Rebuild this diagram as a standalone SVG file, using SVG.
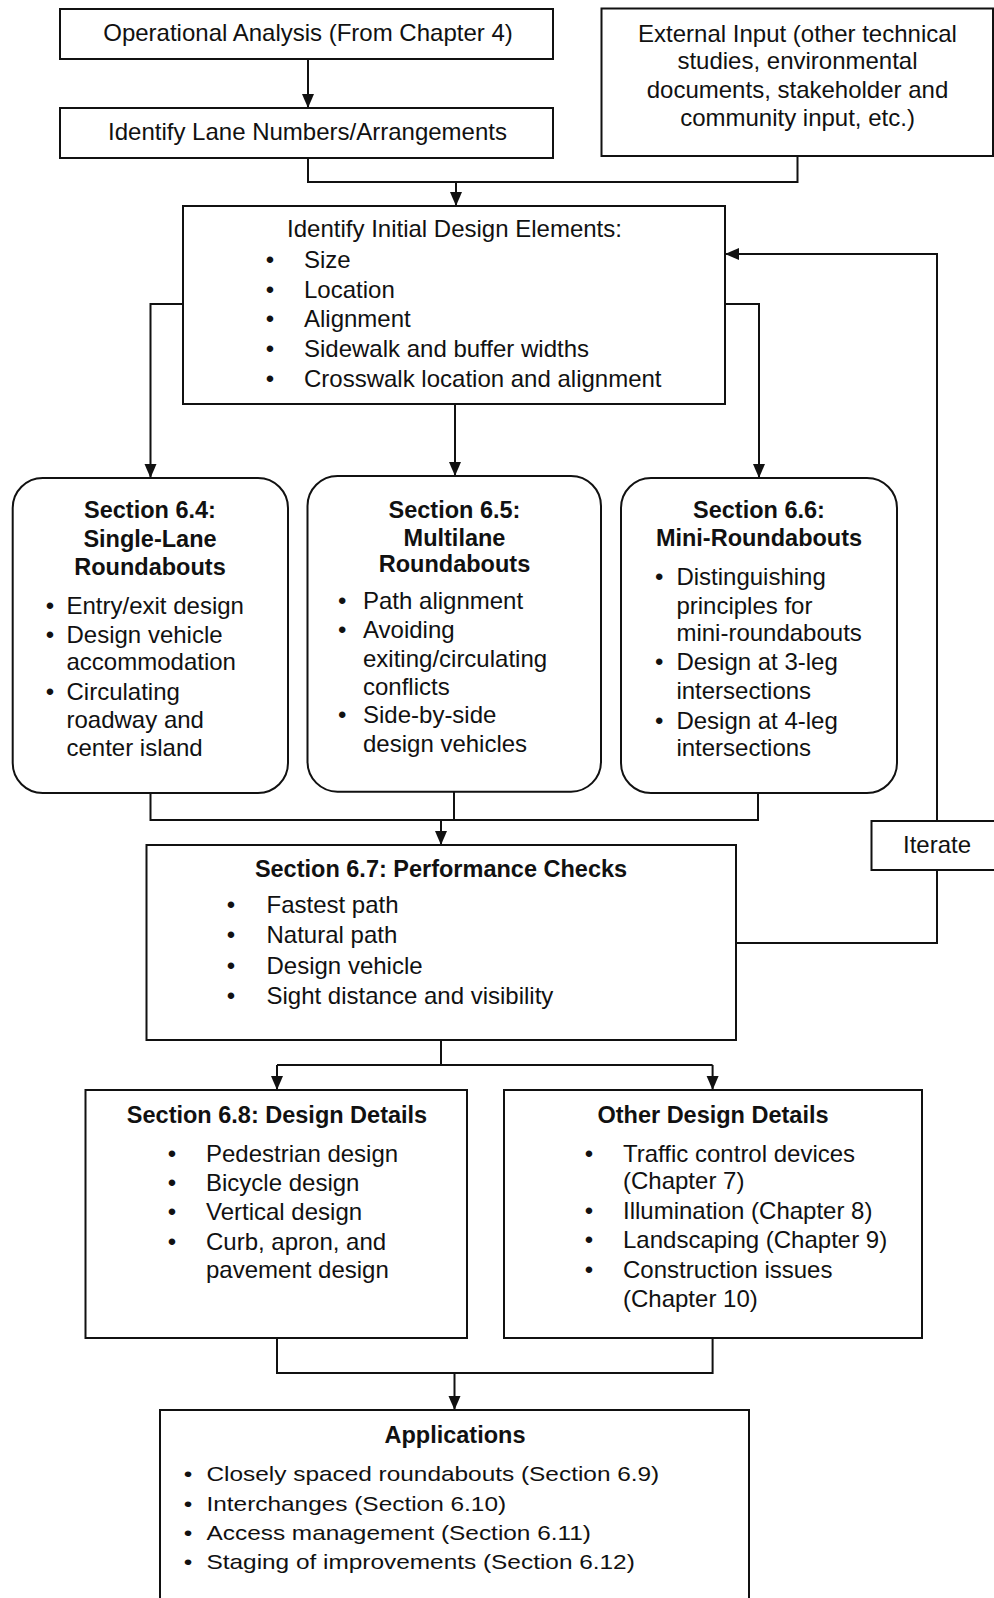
<svg xmlns="http://www.w3.org/2000/svg" width="994" height="1598" viewBox="0 0 994 1598">
<defs>
<style>
.box{fill:#fff;stroke:#111;stroke-width:2}
.t{font-family:"Liberation Sans",Arial,Helvetica,sans-serif;font-size:24px;fill:#111}
.b{font-weight:bold;font-size:23.5px}
.c{text-anchor:middle}
.s{font-size:21px}
.ln{fill:none;stroke:#111;stroke-width:2}
</style>
<marker id="ah" markerWidth="14" markerHeight="14" refX="14" refY="7" orient="auto" markerUnits="userSpaceOnUse">
<path d="M0,1 L14,7 L0,13 z" fill="#111"/>
</marker>
</defs>
<rect width="994" height="1598" fill="#fff"/>

<g id="connectors">
<path class="ln" d="M308,59 V108" marker-end="url(#ah)"/>
<path class="ln" d="M308,158 V182 H797.5 V156"/>
<path class="ln" d="M456,182 V206" marker-end="url(#ah)"/>
<path class="ln" d="M183,304 H150.5 V478" marker-end="url(#ah)"/>
<path class="ln" d="M455,404 V476" marker-end="url(#ah)"/>
<path class="ln" d="M725,304 H759 V478" marker-end="url(#ah)"/>
<path class="ln" d="M150.5,793 V820 H758 V793"/>
<path class="ln" d="M454,792 V820"/>
<path class="ln" d="M441,820 V845" marker-end="url(#ah)"/>
<path class="ln" d="M736,943 H937 V870"/>
<path class="ln" d="M937,821 V254 H725" marker-end="url(#ah)"/>
<path class="ln" d="M441,1040 V1065 M277,1065 H712.6"/>
<path class="ln" d="M277,1065 V1090" marker-end="url(#ah)"/>
<path class="ln" d="M712.6,1065 V1090" marker-end="url(#ah)"/>
<path class="ln" d="M277,1338 V1373 H712.6 V1338"/>
<path class="ln" d="M454.5,1373 V1410" marker-end="url(#ah)"/>
</g>

<g id="operational">
<rect class="box" x="60" y="9" width="493" height="50"/>
<text class="t c" x="308" y="41">Operational Analysis (From Chapter 4)</text>
</g>

<g id="lanes">
<rect class="box" x="60" y="108" width="493" height="50"/>
<text class="t c" x="307.5" y="140">Identify Lane Numbers/Arrangements</text>
</g>

<g id="external">
<rect class="box" x="601.5" y="8.5" width="391.5" height="147.5"/>
<text class="t c" x="797.5" y="41.5">External Input (other technical</text>
<text class="t c" x="797.5" y="69">studies, environmental</text>
<text class="t c" x="797.5" y="97.5">documents, stakeholder and</text>
<text class="t c" x="797.5" y="126">community input, etc.)</text>
</g>

<g id="initial">
<rect class="box" x="183" y="206" width="542" height="198"/>
<text class="t c" x="454.5" y="237">Identify Initial Design Elements:</text>
<text class="t c" x="270" y="268">•</text><text class="t" x="304" y="268">Size</text>
<text class="t c" x="270" y="298">•</text><text class="t" x="304" y="298">Location</text>
<text class="t c" x="270" y="327">•</text><text class="t" x="304" y="327">Alignment</text>
<text class="t c" x="270" y="357">•</text><text class="t" x="304" y="357">Sidewalk and buffer widths</text>
<text class="t c" x="270" y="387">•</text><text class="t" x="304" y="387">Crosswalk location and alignment</text>
</g>

<g id="sec64">
<rect class="box" x="12.7" y="478" width="275.3" height="315" rx="30" ry="30"/>
<text class="t b c" x="150" y="518">Section 6.4:</text>
<text class="t b c" x="150" y="547">Single-Lane</text>
<text class="t b c" x="150" y="575">Roundabouts</text>
<text class="t c" x="50" y="614">•</text><text class="t" x="66.5" y="614">Entry/exit design</text>
<text class="t c" x="50" y="643">•</text><text class="t" x="66.5" y="643">Design vehicle</text>
<text class="t" x="66.5" y="670">accommodation</text>
<text class="t c" x="50" y="700">•</text><text class="t" x="66.5" y="700">Circulating</text>
<text class="t" x="66.5" y="728">roadway and</text>
<text class="t" x="66.5" y="756">center island</text>
</g>

<g id="sec65">
<rect class="box" x="307.5" y="476" width="293.5" height="315.7" rx="30" ry="30"/>
<text class="t b c" x="454.5" y="518">Section 6.5:</text>
<text class="t b c" x="454.5" y="546">Multilane</text>
<text class="t b c" x="454.5" y="572">Roundabouts</text>
<text class="t c" x="342.3" y="609">•</text><text class="t" x="363" y="609">Path alignment</text>
<text class="t c" x="342.3" y="638">•</text><text class="t" x="363" y="638">Avoiding</text>
<text class="t" x="363" y="667">exiting/circulating</text>
<text class="t" x="363" y="695">conflicts</text>
<text class="t c" x="342.3" y="723">•</text><text class="t" x="363" y="723">Side-by-side</text>
<text class="t" x="363" y="752">design vehicles</text>
</g>

<g id="sec66">
<rect class="box" x="621" y="478" width="276" height="315" rx="30" ry="30"/>
<text class="t b c" x="759" y="518">Section 6.6:</text>
<text class="t b c" x="759" y="546">Mini-Roundabouts</text>
<text class="t c" x="659.3" y="585">•</text><text class="t" x="676.4" y="585">Distinguishing</text>
<text class="t" x="676.4" y="614">principles for</text>
<text class="t" x="676.4" y="641">mini-roundabouts</text>
<text class="t c" x="659.3" y="670">•</text><text class="t" x="676.4" y="670">Design at 3-leg</text>
<text class="t" x="676.4" y="699">intersections</text>
<text class="t c" x="659.3" y="729">•</text><text class="t" x="676.4" y="729">Design at 4-leg</text>
<text class="t" x="676.4" y="756">intersections</text>
</g>

<g id="iterate">
<rect class="box" x="871.5" y="821" width="130" height="49"/>
<text class="t c" x="937" y="853">Iterate</text>
</g>

<g id="sec67">
<rect class="box" x="146.5" y="845" width="589.5" height="195"/>
<text class="t b c" x="441" y="877">Section 6.7: Performance Checks</text>
<text class="t c" x="231" y="913">•</text><text class="t" x="266.5" y="913">Fastest path</text>
<text class="t c" x="231" y="943">•</text><text class="t" x="266.5" y="943">Natural path</text>
<text class="t c" x="231" y="974">•</text><text class="t" x="266.5" y="974">Design vehicle</text>
<text class="t c" x="231" y="1004">•</text><text class="t" x="266.5" y="1004">Sight distance and visibility</text>
</g>

<g id="sec68">
<rect class="box" x="85.5" y="1090" width="381.5" height="248"/>
<text class="t b c" x="277" y="1123">Section 6.8: Design Details</text>
<text class="t c" x="172" y="1162">•</text><text class="t" x="206" y="1162">Pedestrian design</text>
<text class="t c" x="172" y="1191">•</text><text class="t" x="206" y="1191">Bicycle design</text>
<text class="t c" x="172" y="1220">•</text><text class="t" x="206" y="1220">Vertical design</text>
<text class="t c" x="172" y="1250">•</text><text class="t" x="206" y="1250">Curb, apron, and</text>
<text class="t" x="206" y="1278">pavement design</text>
</g>

<g id="other">
<rect class="box" x="504" y="1090" width="418" height="248"/>
<text class="t b c" x="713" y="1123">Other Design Details</text>
<text class="t c" x="589" y="1162">•</text><text class="t" x="623" y="1162">Traffic control devices</text>
<text class="t" x="623" y="1189">(Chapter 7)</text>
<text class="t c" x="589" y="1219">•</text><text class="t" x="623" y="1219">Illumination (Chapter 8)</text>
<text class="t c" x="589" y="1248">•</text><text class="t" x="623" y="1248">Landscaping (Chapter 9)</text>
<text class="t c" x="589" y="1278">•</text><text class="t" x="623" y="1278">Construction issues</text>
<text class="t" x="623" y="1307">(Chapter 10)</text>
</g>

<g id="applications">
<rect class="box" x="160" y="1410" width="589" height="200"/>
<text class="t b c" x="455" y="1443">Applications</text>
<g transform="translate(188 0) scale(1.162 1)">
<text class="t s c" x="0" y="1481">•</text><text class="t s" x="15.9" y="1481">Closely spaced roundabouts (Section 6.9)</text>
<text class="t s c" x="0" y="1511">•</text><text class="t s" x="15.9" y="1511">Interchanges (Section 6.10)</text>
<text class="t s c" x="0" y="1540">•</text><text class="t s" x="15.9" y="1540">Access management (Section 6.11)</text>
<text class="t s c" x="0" y="1569">•</text><text class="t s" x="15.9" y="1569">Staging of improvements (Section 6.12)</text>
</g>
</g>
</svg>
